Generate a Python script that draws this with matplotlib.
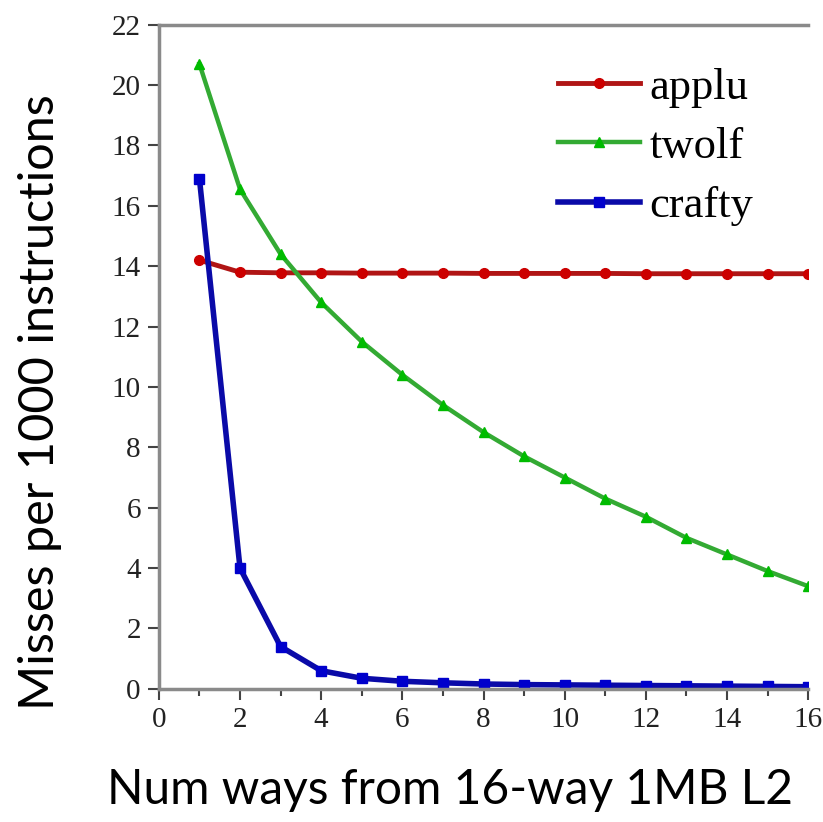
import numpy as np
import matplotlib
matplotlib.use("Agg")
import matplotlib.pyplot as plt
from matplotlib.ticker import MultipleLocator

ways = [1, 2, 3, 4, 5, 6, 7, 8, 9, 10, 11, 12, 13, 14, 15, 16]
applu = [14.2, 13.8, 13.78, 13.78, 13.77, 13.77, 13.77, 13.76, 13.76, 13.76, 13.76, 13.75, 13.75, 13.75, 13.75, 13.75]
twolf = [20.7, 16.55, 14.4, 12.8, 11.5, 10.4, 9.4, 8.5, 7.7, 7.0, 6.3, 5.7, 5.0, 4.45, 3.9, 3.4]
crafty = [16.9, 4.0, 1.4, 0.6, 0.35, 0.25, 0.2, 0.16, 0.14, 0.13, 0.12, 0.11, 0.1, 0.09, 0.08, 0.07]

fig = plt.figure(figsize=(8.23, 8.22), dpi=100)
ax = fig.add_axes([0.193, 0.162, 0.789, 0.808])

ax.plot(ways, applu, "-o", color="#b01515", mfc="#cc0000", mec="#cc0000",
        lw=3.5, ms=7, label="applu")
ax.plot(ways, twolf, "-^", color="#33aa33", mfc="#00bb00", mec="#00bb00",
        lw=3.2, ms=7, label="twolf")
ax.plot(ways, crafty, "-s", color="#0a0aa8", mfc="#0000cc", mec="#0000cc",
        lw=4, ms=7, label="crafty")

ax.set_xlim(0, 16)
ax.set_ylim(0, 22)
ax.xaxis.set_major_locator(MultipleLocator(2))
ax.xaxis.set_minor_locator(MultipleLocator(1))
ax.yaxis.set_major_locator(MultipleLocator(2))

for s in ["left", "bottom", "top"]:
    ax.spines[s].set_color("#8a8a8a")
    ax.spines[s].set_linewidth(2.5)
ax.spines["right"].set_visible(False)
ax.tick_params(which="both", direction="out", color="#444444", width=1.5,
               labelsize=21, labelcolor="#222222", pad=5)
ax.tick_params(which="major", length=8)
ax.tick_params(which="minor", length=5)
for lab in ax.get_xticklabels() + ax.get_yticklabels():
    lab.set_fontfamily("Liberation Serif")

# axis titles placed by pixel position of the reference
ax.set_xlabel("Num ways from 16-way 1MB L2", fontsize=34.5, family="Lato")
ax.set_ylabel("Misses per 1000 instructions", fontsize=35, family="Lato")
ax.xaxis.set_label_coords((450 - 159) / 649, (689 - 768) / 664)
ax.yaxis.set_label_coords((62 - 159) / 649, (689 - 402) / 664)

leg = ax.legend(loc="upper left", frameon=False,
                prop={"family": "Liberation Serif", "size": 32},
                handlelength=1.85, handletextpad=0.2, labelspacing=0.43,
                borderpad=0, borderaxespad=0,
                bbox_to_anchor=((558 - 159) / 649, (689 - 68) / 664))

fig.savefig("out.png", dpi=100)
